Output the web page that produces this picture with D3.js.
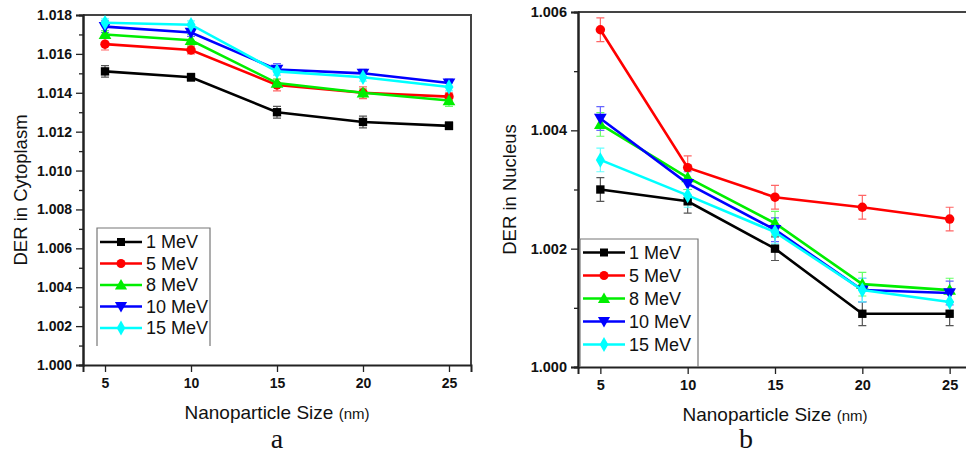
<!DOCTYPE html>
<html>
<head>
<meta charset="utf-8">
<script src="https://cdn.jsdelivr.net/npm/d3@7"></script>
<style>
  body { margin: 0; background: #fff; }
  svg { display: block; font-family: Arial, "Liberation Sans", sans-serif; }
</style>
</head>
<body>
<svg id="chart" width="966" height="457"></svg>
<script>
const sizes = [5, 10, 15, 20, 25]
const energies = ["1 MeV", "5 MeV", "8 MeV", "10 MeV", "15 MeV"]
const colors = ["#000000", "#ff0000", "#00ee00", "#0000ff", "#00ffff"]
const errColors = ["#555555", "#ff6666", "#66ff66", "#6666ff", "#66ffff"]

// panel a: cytoplasm
const cytoValues = [
  [1.0151, 1.0148, 1.0130, 1.0125, 1.0123],
  [1.0165, 1.0162, 1.0144, 1.0140, 1.0138],
  [1.0170, 1.0167, 1.0145, 1.0140, 1.0136],
  [1.0174, 1.0171, 1.0152, 1.0150, 1.0145],
  [1.0176, 1.0175, 1.0151, 1.0148, 1.0143]
]
const cytoErrors = [
  [0.0003, 0.0002, 0.0003, 0.0003, 0.0002],
  [0.0003, 0.0002, 0.0003, 0.0003, 0.0002],
  [0.0002, 0.0003, 0.0002, 0.0002, 0.0003],
  [0.0003, 0.0002, 0.0003, 0.0002, 0.0002],
  [0.0002, 0.0002, 0.0002, 0.0002, 0.0002]
]
const cytoTicks = [1.000, 1.002, 1.004, 1.006, 1.008, 1.010, 1.012, 1.014, 1.016, 1.018]

// panel b: nucleus
const nucValues = [
  [1.0030, 1.0028, 1.0020, 1.0009, 1.0009],
  [1.0057, 1.00337, 1.00287, 1.0027, 1.0025],
  [1.0041, 1.0032, 1.00243, 1.0014, 1.0013],
  [1.0042, 1.0031, 1.00232, 1.0013, 1.00125],
  [1.0035, 1.0029, 1.00228, 1.0013, 1.0011]
]
const nucErrors = [
  [0.0002, 0.0002, 0.0002, 0.0002, 0.0002],
  [0.0002, 0.0002, 0.0002, 0.0002, 0.0002],
  [0.0002, 0.0002, 0.0002, 0.0002, 0.0002],
  [0.0002, 0.0002, 0.0002, 0.0002, 0.0002],
  [0.0002, 0.0002, 0.0002, 0.0002, 0.0002]
]
const nucTicks = [1.000, 1.002, 1.004, 1.006]

const svg = d3.select("#chart")

const symbolTypes = [d3.symbolSquare, d3.symbolCircle, d3.symbolTriangle, d3.symbolTriangle, d3.symbolDiamond]
function marker(g, i, x, y, size) {
  const rot = i == 3 ? 180 : 0
  const dy = i == 2 ? 1 : (i == 3 ? -1 : 0)
  g.append("path")
    .attr("d", d3.symbol().type(symbolTypes[i]).size(size)())
    .attr("transform", `translate(${x},${y + dy}) rotate(${rot})`)
    .attr("fill", colors[i])
}

function drawPanel(p) {
  const x = d3.scaleLinear().domain([3.72, 26.28]).range([p.left, p.right])
  const y = d3.scaleLinear().domain(p.domain).range([p.bottom, p.top])
  const g = svg.append("g")

  // frame top/right
  g.append("path")
    .attr("d", `M${p.left},${p.top}H${p.right}V${p.bottom}`)
    .attr("fill", "none").attr("stroke", "#444").attr("stroke-width", 2)

  // y axis with minor ticks
  const minor = []
  for (let k = 0; k < p.ticks.length - 1; k++) minor.push((p.ticks[k] + p.ticks[k + 1]) / 2)
  g.append("g").attr("transform", `translate(${p.left},0)`)
    .call(d3.axisLeft(y).tickValues(minor).tickSize(4).tickFormat(""))
  const ya = g.append("g").attr("transform", `translate(${p.left},0)`)
    .call(d3.axisLeft(y).tickValues(p.ticks).tickSize(7).tickPadding(4).tickFormat(d3.format(".3f")))
  ya.selectAll("text").attr("font-size", p.tickFont).attr("font-weight", "bold").attr("fill", "#111")

  const xa = g.append("g").attr("transform", `translate(0,${p.bottom})`)
    .call(d3.axisBottom(x).tickValues(sizes).tickSize(7).tickPadding(6))
  xa.selectAll("text").attr("font-size", p.tickFont).attr("font-weight", "bold").attr("fill", "#111")

  g.selectAll(".domain").attr("stroke", "#222").attr("stroke-width", 2)
  g.selectAll(".tick line").attr("stroke", "#222").attr("stroke-width", 1.3)

  // error bars
  p.values.forEach((vals, i) => {
    vals.forEach((v, j) => {
      const e = p.errors[i][j]
      const cx = x(sizes[j])
      g.append("path")
        .attr("d", `M${cx},${y(v - e)}V${y(v + e)}M${cx - 4},${y(v - e)}h8M${cx - 4},${y(v + e)}h8`)
        .attr("stroke", errColors[i]).attr("stroke-width", 1.2).attr("fill", "none")
    })
  })

  // lines and markers
  const line = d3.line().x((d, j) => x(sizes[j])).y(d => y(d))
  p.values.forEach((vals, i) => {
    g.append("path").attr("d", line(vals))
      .attr("fill", "none").attr("stroke", colors[i]).attr("stroke-width", 2.6)
    vals.forEach((v, j) => marker(g, i, x(sizes[j]), y(v), 70))
  })

  // legend
  const lg = g.append("g")
  const lx = p.legend.x, ly = p.legend.y, lw = p.legend.w, lh = p.legend.h
  lg.append("path")
    .attr("d", `M${lx},${ly + lh}V${ly}H${lx + lw}V${ly + lh}`)
    .attr("fill", "none").attr("stroke", "#777").attr("stroke-width", 1.2)
  energies.forEach((name, i) => {
    const ry = ly + p.legend.first + i * p.legend.step
    lg.append("line").attr("x1", lx + 3).attr("x2", lx + 45).attr("y1", ry).attr("y2", ry)
      .attr("stroke", colors[i]).attr("stroke-width", 2.6)
    marker(lg, i, lx + 24, ry, 64)
    lg.append("text").attr("x", lx + 49).attr("y", ry).attr("dy", "0.36em")
      .attr("font-size", p.legend.font).attr("fill", "#111").text(name)
  })

  // axis titles
  const xt = g.append("text").attr("x", p.titleX).attr("y", p.bottom + 54)
    .attr("text-anchor", "middle").attr("fill", "#111").attr("font-size", 19)
  xt.append("tspan").text("Nanoparticle Size ")
  xt.append("tspan").attr("font-size", 15).text("(nm)")

  g.append("text")
    .attr("transform", `translate(${p.yTitleX},${(p.top + p.bottom) / 2}) rotate(-90)`)
    .attr("text-anchor", "middle").attr("fill", "#111").attr("font-size", 18.5)
    .text(p.yTitle)

  g.append("text").attr("x", p.letterX).attr("y", 448)
    .attr("text-anchor", "middle").attr("font-family", "'Liberation Serif', 'DejaVu Serif', serif")
    .attr("font-size", 28).attr("fill", "#111").text(p.letter)
}

drawPanel({
  left: 83, right: 471, top: 15, bottom: 365,
  domain: [1.000, 1.018], ticks: cytoTicks,
  values: cytoValues, errors: cytoErrors, tickFont: 14,
  legend: { x: 97, y: 228, w: 113, h: 118, first: 14, step: 21.5, font: 18 },
  titleX: 277, yTitleX: 27, yTitle: "DER in Cytoplasm", letter: "a", letterX: 277
})

drawPanel({
  left: 578, right: 972, top: 12, bottom: 367,
  domain: [1.000, 1.006], ticks: nucTicks,
  values: nucValues, errors: nucErrors, tickFont: 14.5,
  legend: { x: 580, y: 239, w: 118, h: 128, first: 13.5, step: 23, font: 18 },
  titleX: 775, yTitleX: 516, yTitle: "DER in Nucleus", letter: "b", letterX: 746
})
</script>
</body>
</html>
